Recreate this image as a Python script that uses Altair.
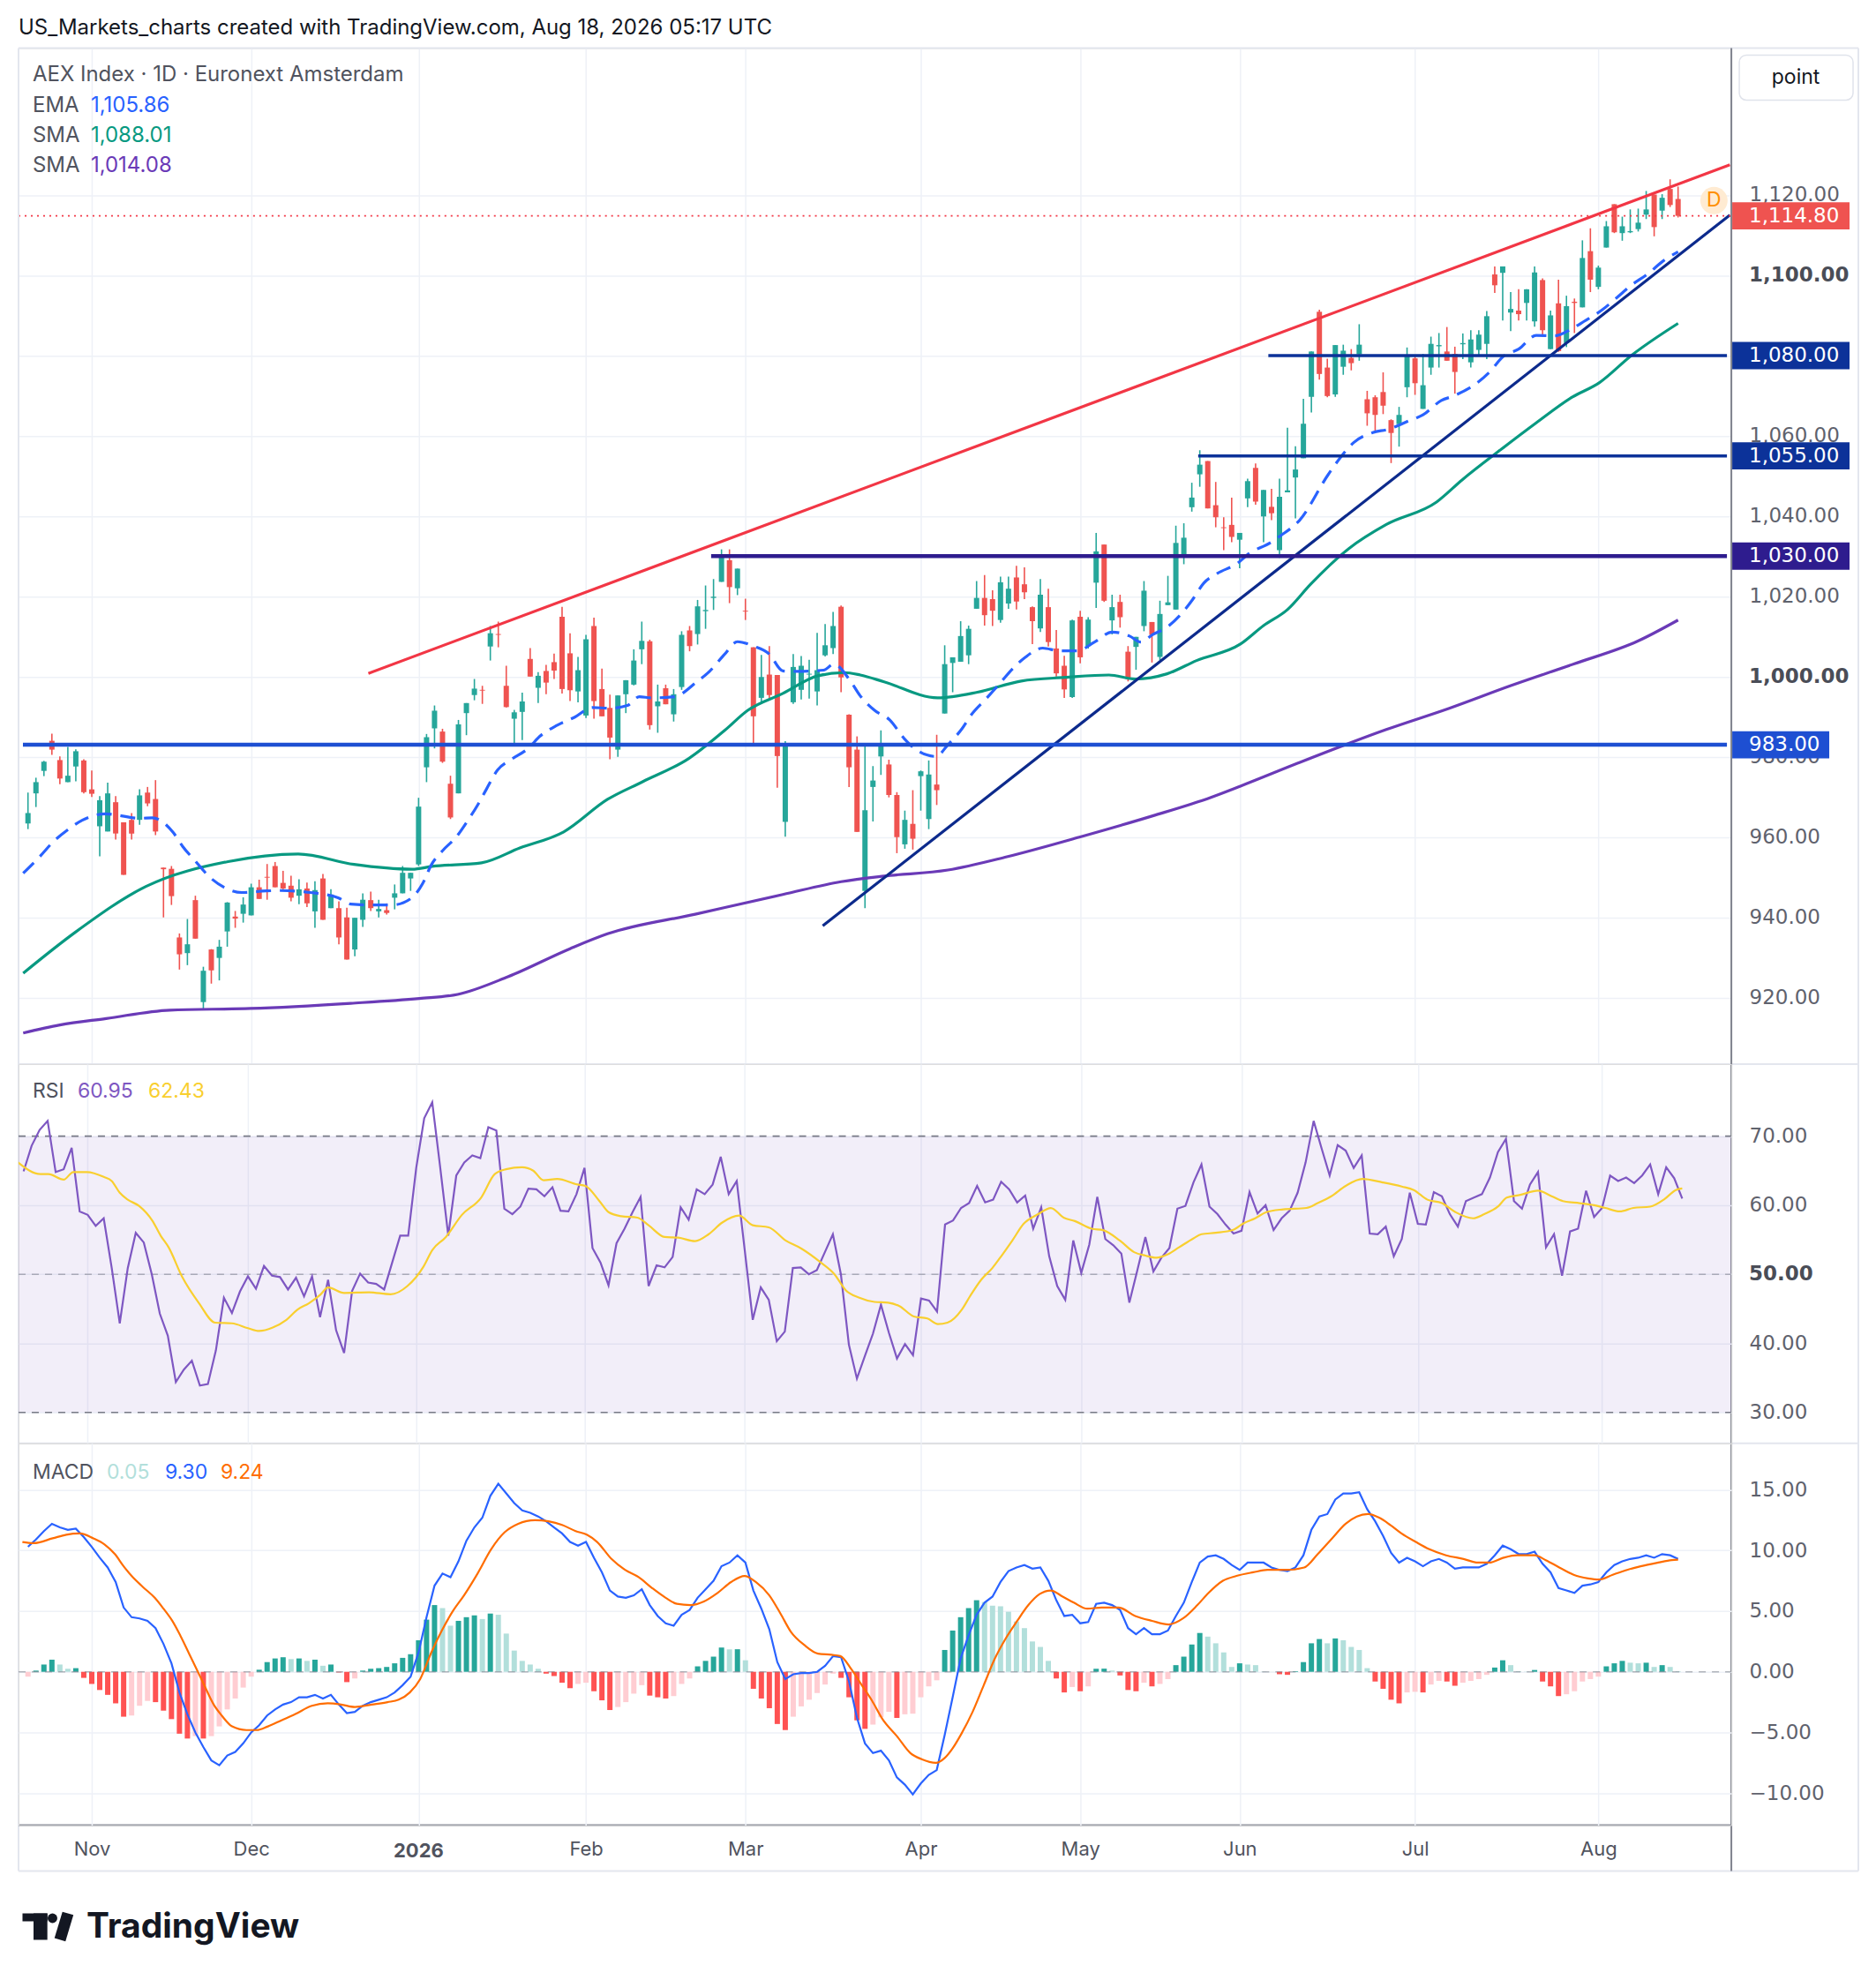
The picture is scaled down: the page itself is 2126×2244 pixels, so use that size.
import altair as alt
import pandas as pd

# ---------------- data (bar index 0 = 22 Oct 2025) ----------------
OPEN = [963.4, 970.9, 976.5, 984.0, 979.2, 973.7, 977.6, 979.1, 971.9, 962.7,
        961.4, 968.7, 963.7, 964.3, 964.3, 971.1, 969.5, 952.4, 952.1, 935.0,
        931.1, 944.3, 918.9, 932.0, 929.9, 936.5, 940.2, 940.9, 940.5, 947.5,
        950.1, 952.8, 948.6, 947.9, 945.4, 947.2, 941.5, 949.7, 942.3, 942.3,
        940.0, 932.0, 939.4, 944.3, 941.5, 941.8, 944.9, 946.0, 949.7, 953.2,
        977.4, 987.1, 986.3, 973.3, 970.9, 990.9, 995.4, 996.7, 1007.5, 1010.6,
        997.7, 989.5, 991.2, 1004.4, 997.2, 1001.4, 1003.6, 1014.9, 1005.8, 996.3,
        990.3, 1012.6, 996.9, 992.2, 981.8, 995.6, 998.0, 1006.8, 1008.8, 992.6,
        997.1, 990.6, 997.4, 1011.5, 1010.6, 1016.3, 1019.6, 1023.6, 1029.0, 1022.0,
        1016.4, 1007.3, 994.7, 1000.5, 1000.4, 963.8, 993.6, 996.7, 1000.5, 996.3,
        1005.3, 1007.1, 1017.4, 990.5, 981.8, 946.6, 972.5, 980.1, 978.1, 970.5,
        958.2, 963.3, 975.2, 964.5, 973.1, 990.8, 1003.4, 1003.7, 1005.3, 1016.9,
        1019.6, 1019.3, 1014.1, 1018.2, 1024.7, 1023.0, 1017.3, 1012.0, 1017.3, 1007.0,
        1002.7, 994.9, 1014.9, 1007.6, 1023.4, 1032.9, 1014.0, 1018.6, 1006.2, 1007.4,
        1012.6, 1013.6, 1004.9, 1017.8, 1016.7, 1029.7, 1042.2, 1050.4, 1053.7, 1042.7,
        1037.2, 1037.8, 1034.1, 1044.4, 1052.0, 1039.9, 1042.3, 1031.5, 1045.9, 1049.6,
        1054.4, 1069.7, 1090.9, 1077.0, 1070.3, 1077.2, 1079.4, 1080.3, 1069.1, 1069.6,
        1070.9, 1063.9, 1062.9, 1072.1, 1079.3, 1066.7, 1077.0, 1082.3, 1081.0, 1080.4,
        1082.8, 1078.3, 1081.4, 1082.9, 1100.2, 1100.6, 1090.7, 1091.2, 1093.1, 1088.5,
        1098.8, 1081.6, 1093.0, 1083.1, 1093.4, 1092.0, 1106.0, 1097.1, 1106.9, 1117.7,
        1110.5, 1110.7, 1111.5, 1115.1, 1120.1, 1116.1, 1121.5, 1119.0]
HIGH = [971.1, 974.8, 979.0, 985.8, 980.1, 982.5, 981.9, 979.4, 976.6, 970.2,
        973.6, 970.2, 963.7, 966.0, 971.9, 972.5, 974.2, 952.4, 952.8, 936.0,
        939.6, 945.4, 927.7, 932.1, 934.4, 943.8, 941.6, 945.0, 948.4, 949.4,
        953.3, 953.8, 951.6, 950.4, 949.5, 948.7, 949.0, 950.8, 947.0, 944.0,
        942.4, 939.9, 946.0, 946.4, 944.4, 943.5, 948.2, 952.8, 951.1, 969.8,
        985.7, 992.8, 987.0, 975.3, 989.2, 993.4, 999.4, 997.7, 1012.6, 1013.7,
        1002.7, 991.7, 996.0, 1007.1, 1001.1, 1002.9, 1005.7, 1017.4, 1010.8, 1004.9,
        1010.4, 1014.7, 1002.0, 995.5, 995.3, 999.1, 1006.8, 1013.7, 1009.2, 998.0,
        998.0, 996.9, 1011.3, 1012.6, 1019.1, 1022.7, 1024.3, 1031.7, 1031.7, 1026.9,
        1019.4, 1007.3, 1005.4, 1007.6, 1000.4, 983.9, 1005.6, 1005.1, 1004.2, 1010.9,
        1013.1, 1016.1, 1017.7, 990.6, 985.1, 982.6, 977.7, 986.6, 979.3, 971.2,
        966.6, 971.7, 976.6, 979.1, 985.5, 1007.8, 1004.8, 1013.8, 1012.7, 1023.8,
        1025.3, 1021.5, 1024.9, 1024.9, 1027.6, 1027.2, 1017.5, 1024.3, 1021.9, 1011.6,
        1005.2, 1014.2, 1016.4, 1014.8, 1035.8, 1032.9, 1020.4, 1020.4, 1007.6, 1009.9,
        1023.8, 1013.6, 1018.9, 1025.1, 1037.6, 1038.2, 1048.3, 1056.4, 1053.7, 1048.5,
        1039.7, 1044.6, 1035.8, 1049.3, 1053.1, 1046.5, 1046.8, 1049.3, 1062.0, 1057.4,
        1069.2, 1081.0, 1091.4, 1079.2, 1082.6, 1082.7, 1081.6, 1087.8, 1071.2, 1070.1,
        1075.8, 1064.1, 1067.2, 1082.0, 1080.1, 1080.4, 1084.7, 1085.6, 1087.1, 1082.2,
        1085.5, 1086.3, 1086.3, 1091.1, 1102.2, 1102.2, 1095.8, 1096.5, 1096.5, 1102.2,
        1099.2, 1091.2, 1098.9, 1094.9, 1094.2, 1108.7, 1111.7, 1102.4, 1113.5, 1117.7,
        1114.6, 1116.4, 1116.6, 1121.0, 1120.1, 1120.2, 1123.9, 1122.1]
LOW = [962.0, 967.5, 975.2, 980.5, 973.2, 973.7, 973.9, 970.9, 970.0, 955.2,
       961.4, 959.4, 950.6, 959.4, 963.1, 967.7, 960.5, 940.0, 943.1, 927.0,
       928.1, 934.7, 916.9, 923.5, 924.3, 932.7, 937.4, 938.7, 940.5, 944.6,
       944.4, 947.5, 947.0, 944.0, 943.3, 942.6, 937.4, 939.4, 942.3, 933.3,
       929.5, 930.3, 937.6, 941.6, 940.0, 940.7, 942.0, 946.0, 946.6, 952.8,
       973.7, 982.1, 978.5, 964.5, 970.9, 985.4, 994.1, 993.2, 1004.0, 1007.3,
       992.3, 982.6, 984.2, 1000.0, 993.4, 995.6, 999.4, 995.8, 993.9, 993.6,
       989.7, 989.5, 990.1, 979.4, 980.0, 990.9, 997.8, 1003.1, 986.8, 986.0,
       993.1, 988.8, 996.7, 1006.3, 1008.0, 1011.9, 1016.6, 1023.6, 1018.3, 1020.3,
       1014.1, 983.4, 993.6, 994.3, 972.3, 960.1, 993.2, 994.3, 994.5, 992.8,
       1005.0, 1005.6, 996.1, 972.5, 961.3, 942.3, 963.9, 975.5, 969.9, 956.0,
       957.1, 956.9, 966.6, 962.0, 968.0, 990.8, 996.1, 1003.7, 1003.1, 1016.9,
       1012.7, 1012.6, 1013.4, 1016.9, 1016.7, 1019.3, 1008.1, 1011.1, 1007.5, 1000.0,
       994.7, 994.7, 1003.3, 1007.0, 1017.1, 1018.6, 1010.5, 1012.2, 998.8, 1001.7,
       1011.3, 1003.5, 1004.1, 1017.8, 1016.7, 1028.0, 1041.1, 1047.3, 1041.9, 1037.2,
       1031.5, 1033.5, 1027.0, 1042.2, 1042.8, 1033.5, 1039.0, 1029.6, 1045.9, 1039.4,
       1054.4, 1065.8, 1074.0, 1069.6, 1069.7, 1075.2, 1076.3, 1078.7, 1062.5, 1060.8,
       1065.4, 1053.2, 1057.3, 1069.6, 1070.2, 1066.7, 1075.2, 1077.0, 1078.7, 1070.5,
       1079.1, 1077.0, 1079.8, 1079.1, 1095.6, 1088.7, 1086.1, 1088.7, 1088.7, 1087.2,
       1084.7, 1081.6, 1080.9, 1082.1, 1085.6, 1092.0, 1095.8, 1096.5, 1106.9, 1110.5,
       1108.6, 1110.5, 1110.9, 1114.0, 1109.7, 1114.0, 1117.0, 1114.4]
CLOSE = [966.0, 973.7, 978.8, 981.8, 974.6, 975.3, 981.4, 971.2, 970.8, 969.2,
         970.9, 960.9, 950.6, 960.9, 970.4, 968.4, 961.4, 952.0, 945.3, 930.8,
         933.3, 934.7, 926.7, 926.8, 932.7, 943.7, 939.7, 943.2, 947.5, 944.6,
         949.9, 947.5, 947.2, 944.9, 947.0, 943.5, 946.8, 939.4, 945.7, 935.0,
         929.5, 939.9, 944.4, 942.3, 942.1, 941.1, 946.0, 951.1, 951.1, 967.6,
         984.9, 991.5, 978.8, 964.9, 988.1, 993.4, 997.0, 996.5, 1010.8, 1010.4,
         992.4, 991.1, 993.8, 1000.0, 1000.2, 998.5, 1001.5, 996.9, 996.6, 1001.6,
         1009.3, 993.9, 990.1, 984.8, 995.3, 999.1, 1004.0, 1008.9, 987.9, 993.8,
         993.1, 995.6, 1010.4, 1007.6, 1017.5, 1016.6, 1019.9, 1030.1, 1022.3, 1026.9,
         1016.2, 990.1, 999.9, 995.4, 980.2, 983.1, 1002.4, 1002.7, 1000.7, 1001.6,
         1007.8, 1012.6, 999.8, 977.4, 961.3, 966.7, 974.1, 983.0, 970.5, 960.0,
         964.3, 959.6, 976.4, 975.6, 971.7, 1003.1, 1004.8, 1010.1, 1011.9, 1019.6,
         1015.3, 1016.4, 1023.5, 1021.9, 1018.7, 1021.0, 1013.8, 1020.4, 1008.6, 1000.8,
         996.8, 1014.0, 1004.8, 1014.2, 1031.2, 1018.9, 1017.3, 1014.8, 999.4, 1009.9,
         1021.4, 1010.4, 1015.6, 1018.5, 1033.3, 1034.6, 1044.6, 1052.8, 1041.9, 1039.7,
         1037.0, 1034.8, 1035.8, 1048.7, 1043.6, 1046.5, 1040.7, 1044.8, 1046.4, 1051.6,
         1063.0, 1081.0, 1075.4, 1069.9, 1082.6, 1081.2, 1078.1, 1082.7, 1065.6, 1065.2,
         1067.5, 1060.7, 1065.2, 1080.1, 1073.1, 1072.6, 1082.9, 1082.6, 1078.7, 1075.9,
         1083.1, 1084.0, 1085.2, 1089.8, 1097.5, 1102.2, 1091.6, 1090.3, 1096.5, 1100.7,
         1086.3, 1090.0, 1081.1, 1092.3, 1093.1, 1104.3, 1098.9, 1101.9, 1112.2, 1110.7,
         1112.2, 1111.0, 1113.1, 1116.4, 1112.0, 1119.3, 1117.5, 1114.8]

EMA_PTS = [(-0.6, 951.0), (1.6, 955.4), (3.1, 958.7), (5.1, 962.0), (6.8, 964.2), (9.7, 965.8),
           (14.1, 964.7), (15.6, 964.8), (18.2, 961.2), (19.4, 957.7), (21.1, 953.8), (22.6, 950.4),
           (24.6, 947.5), (26.8, 946.2), (29.9, 946.6), (31.7, 946.7), (35.4, 946.2), (38.9, 944.9),
           (40.5, 943.3), (42.7, 943.1), (45.7, 943.1), (48.1, 944.8), (49.5, 948.4), (50.6, 953.1),
           (52.0, 956.6), (53.8, 960.2), (55.1, 963.9), (56.5, 968.3), (57.5, 971.9), (58.9, 976.7),
           (60.6, 979.3), (62.8, 982.2), (64.2, 985.1), (66.4, 987.9), (68.6, 989.9), (70.8, 992.3),
           (73.0, 992.1), (75.2, 992.8), (76.7, 995.0), (78.2, 994.7), (81.1, 995.0), (83.9, 998.7),
           (85.5, 1001.3), (87.4, 1005.6), (89.0, 1008.7), (91.0, 1007.6), (93.0, 1005.6), (94.7, 1001.4),
           (96.5, 1001.3), (99.8, 1001.6), (101.1, 1003.1), (103.1, 999.1), (104.4, 995.2), (106.2, 991.6),
           (108.1, 989.2), (109.9, 984.6), (111.4, 981.8), (113.9, 980.1), (115.4, 983.0), (117.2, 987.1),
           (118.3, 990.4), (120.2, 994.5), (121.7, 997.8), (123.5, 1001.9), (125.1, 1004.8), (127.3, 1007.1),
           (129.4, 1006.4), (131.6, 1006.4), (133.8, 1008.6), (136.0, 1011.1), (138.2, 1010.1), (139.6, 1008.6),
           (141.1, 1010.5), (142.8, 1012.2), (144.8, 1015.9), (146.1, 1019.2), (147.5, 1023.3), (149.2, 1025.7),
           (151.7, 1028.2), (153.2, 1030.7), (155.8, 1033.3), (157.2, 1035.2), (159.5, 1038.9), (163.1, 1050.3),
           (164.8, 1055.0), (166.3, 1058.3), (168.7, 1060.8), (170.6, 1061.6), (173.2, 1063.7), (175.0, 1065.2),
           (177.3, 1068.8), (178.8, 1069.9), (181.8, 1073.2), (183.3, 1075.8), (185.1, 1079.8), (187.0, 1081.6),
           (189.2, 1085.0), (191.5, 1084.9), (193.7, 1086.7), (195.2, 1088.5), (197.5, 1091.4), (199.3, 1094.4),
           (201.2, 1097.6), (203.1, 1100.2), (205.3, 1103.8), (207.0, 1105.86)]
SMA50_PTS = [(-0.6, 926.1), (6.0, 936.4), (14.8, 947.7), (25.1, 953.9), (33.9, 955.8), (40.9, 953.2),
             (48.2, 952.0), (50.7, 952.7), (56.9, 953.6), (61.7, 957.3), (67.2, 961.3), (72.7, 969.4),
             (77.1, 973.8), (82.9, 979.6), (87.4, 986.6), (90.3, 991.6), (94.7, 995.8), (99.1, 1000.2),
             (102.4, 1001.0), (104.4, 1000.4), (107.4, 998.7), (114.1, 994.7), (119.1, 996.1), (124.6, 998.9),
             (130.1, 999.8), (135.6, 1000.4), (138.9, 999.4), (142.9, 1000.7), (146.6, 1004.0), (152.1, 1008.1),
             (155.0, 1012.7), (158.0, 1016.7), (160.9, 1023.0), (165.7, 1031.9), (170.4, 1037.9), (176.7, 1043.5),
             (179.9, 1049.0), (184.8, 1056.6), (189.2, 1063.2), (193.7, 1069.6), (197.1, 1073.2), (201.2, 1080.1),
             (207.0, 1088.01)]
SMA200_PTS = [(-0.6, 911.2), (4.0, 913.2), (9.8, 914.8), (17.8, 916.9), (27.9, 917.3), (40.5, 918.6),
              (49.1, 919.8), (53.9, 920.8), (60.2, 925.2), (68.0, 932.2), (72.7, 935.9), (83.7, 940.8),
              (94.7, 945.7), (102.0, 948.9), (107.4, 950.3), (115.4, 951.8), (122.8, 955.1), (131.9, 960.0),
              (141.1, 965.3), (148.4, 969.9), (152.1, 972.7), (159.4, 978.5), (170.4, 986.8), (178.3, 992.1),
              (186.1, 997.8), (194.0, 1003.2), (201.9, 1008.8), (207.0, 1014.08)]

RSI = [64.9, 68.6, 70.9, 72.2, 64.8, 65.2, 68.3, 59.1, 58.6, 57.0,
       58.1, 50.9, 42.9, 50.9, 56.0, 54.6, 50.0, 44.3, 41.1, 34.4,
       36.2, 37.5, 33.9, 34.1, 39.0, 46.6, 44.4, 47.5, 49.7, 47.9,
       51.2, 49.8, 49.6, 47.8, 49.5, 46.8, 49.7, 43.8, 49.2, 41.9,
       38.6, 47.6, 50.1, 48.8, 48.6, 47.8, 51.7, 55.6, 55.6, 65.4,
       72.6, 74.9, 65.4, 55.6, 64.3, 66.2, 67.2, 66.8, 71.3, 70.8,
       59.5, 58.7, 59.8, 62.4, 62.3, 61.3, 62.6, 59.2, 59.1, 61.6,
       65.4, 53.8, 51.7, 48.4, 54.5, 56.6, 59.0, 61.2, 48.3, 51.3,
       51.0, 52.5, 59.7, 57.9, 62.3, 61.6, 63.0, 67.0, 61.6, 63.5,
       53.5, 43.4, 48.1, 46.3, 40.3, 41.7, 50.9, 51.0, 50.0, 50.6,
       53.2, 55.8, 50.0, 39.8, 34.9, 38.2, 41.4, 45.6, 41.5, 37.8,
       39.9, 38.3, 46.5, 46.2, 44.6, 57.2, 57.8, 59.6, 60.3, 62.8,
       60.4, 60.8, 63.4, 62.3, 60.4, 61.4, 56.6, 59.7, 52.6, 48.3,
       46.3, 54.9, 50.2, 54.3, 61.2, 55.1, 54.2, 53.0, 45.9, 50.6,
       55.4, 50.4, 52.4, 53.8, 59.5, 59.9, 63.3, 65.9, 59.8, 58.7,
       57.2, 55.9, 56.3, 61.9, 58.8, 60.0, 56.4, 58.1, 59.2, 61.8,
       66.2, 72.2, 68.2, 64.3, 68.7, 67.9, 65.4, 67.2, 55.9, 55.8,
       56.9, 52.6, 55.1, 61.8, 57.3, 57.2, 61.9, 61.3, 58.7, 56.9,
       60.6, 61.1, 61.6, 64.0, 67.7, 69.6, 60.6, 59.5, 63.0, 64.8,
       53.9, 55.8, 49.8, 56.2, 56.6, 62.1, 58.3, 59.6, 64.3, 63.5,
       64.0, 63.2, 64.3, 65.9, 61.6, 65.5, 63.9, 60.95]
RSI_MA_PTS = [(-0.7, 66.2), (2.1, 64.5), (3.1, 64.5), (5.0, 63.7), (6.2, 64.8), (7.9, 64.8), (10.0, 64.1),
              (11.0, 63.5), (12.0, 61.8), (13.0, 60.8), (14.4, 59.9), (16.1, 57.7), (17.1, 55.6), (18.1, 53.9),
              (19.8, 49.6), (21.9, 45.8), (23.9, 43.0), (26.0, 42.9), (28.0, 42.2), (29.4, 41.8), (31.1, 42.3),
              (32.8, 43.4), (34.2, 44.9), (35.6, 45.8), (37.0, 47.0), (38.0, 48.1), (40.0, 47.3), (43.1, 47.4),
              (45.8, 47.1), (47.9, 48.3), (49.9, 51.1), (51.0, 53.5), (52.7, 55.4), (54.7, 58.6), (57.1, 61.1),
              (58.8, 64.5), (60.2, 65.2), (62.2, 65.5), (63.6, 65.0), (64.9, 63.6), (66.6, 63.8), (69.1, 63.0),
              (70.1, 62.8), (71.8, 60.7), (73.0, 59.0), (74.6, 58.4), (76.6, 58.2), (78.0, 57.1), (80.0, 55.4),
              (81.7, 55.3), (83.8, 54.8), (85.5, 55.8), (87.2, 57.5), (89.3, 58.5), (91.0, 57.1), (93.0, 56.8),
              (95.1, 54.9), (97.1, 53.7), (99.5, 51.7), (101.2, 50.0), (102.6, 47.7), (104.3, 46.6), (106.2, 46.0),
              (107.9, 45.9), (109.3, 45.4), (111.1, 43.9), (112.8, 43.6), (114.1, 42.8), (115.3, 43.0),
              (117.1, 44.9), (118.1, 46.8), (119.5, 49.2), (120.9, 50.9), (122.0, 52.6), (123.4, 54.9),
              (124.8, 57.3), (126.6, 58.7), (128.2, 59.6), (129.8, 58.2), (131.2, 57.7), (133.3, 56.6),
              (134.7, 56.4), (136.8, 54.9), (138.6, 53.2), (140.0, 52.7), (141.4, 52.4), (142.8, 52.9),
              (144.2, 53.9), (146.0, 55.2), (147.0, 55.8), (148.8, 56.0), (150.9, 56.4), (152.3, 57.4),
              (153.7, 58.1), (155.1, 59.0), (157.2, 59.4), (160.1, 59.6), (161.5, 60.3), (163.2, 61.3),
              (165.0, 62.8), (167.1, 63.8), (169.6, 63.3), (172.0, 62.7), (173.5, 62.2), (175.2, 60.8),
              (177.0, 60.3), (178.7, 59.0), (180.9, 58.1), (182.3, 58.7), (184.0, 59.8), (185.1, 61.1),
              (186.8, 61.5), (189.0, 62.1), (190.7, 61.3), (192.1, 60.6), (194.2, 60.3), (196.0, 60.0),
              (197.4, 59.6), (199.2, 59.1), (200.9, 59.6), (203.0, 59.8), (204.8, 60.9), (206.2, 62.2),
              (207.0, 62.43)]

MACD = [10.3, 10.9, 11.6, 12.2, 11.9, 11.7, 11.8, 11.1, 10.3, 9.4,
        8.6, 7.4, 5.3, 4.5, 4.4, 4.2, 3.6, 2.3, 0.7, -1.7,
        -3.5, -5.0, -6.2, -7.3, -7.7, -6.9, -6.6, -5.9, -5.0, -4.4,
        -3.6, -3.1, -2.7, -2.5, -2.1, -2.1, -1.9, -2.2, -1.9, -2.7,
        -3.4, -3.3, -2.8, -2.5, -2.3, -2.1, -1.7, -1.1, -0.4, 1.6,
        4.5, 7.1, 8.1, 7.8, 9.1, 10.8, 11.9, 12.7, 14.5, 15.5,
        14.7, 13.9, 13.3, 13.1, 12.8, 12.4, 11.9, 11.4, 10.7, 10.4,
        10.7, 9.4, 8.2, 6.7, 6.2, 6.1, 6.3, 6.8, 5.5, 4.6,
        4.0, 3.8, 4.7, 5.1, 6.1, 6.8, 7.5, 8.7, 9.0, 9.6,
        9.0, 6.7, 5.2, 3.5, 0.8, -0.6, -0.2, -0.1, -0.1, 0.0,
        0.5, 1.3, 1.2, -0.8, -3.8, -5.9, -6.7, -6.5, -7.3, -8.7,
        -9.3, -10.1, -9.2, -8.5, -8.1, -5.2, -2.1, 1.1, 3.0, 4.7,
        5.7, 6.2, 7.4, 8.3, 8.6, 8.8, 8.5, 8.6, 7.5, 5.9,
        4.6, 4.7, 4.0, 4.1, 5.6, 5.7, 5.5, 5.1, 3.6, 3.1,
        3.6, 3.1, 3.1, 3.4, 4.6, 5.7, 7.4, 9.0, 9.5, 9.6,
        9.3, 8.8, 8.4, 9.0, 9.0, 9.0, 8.6, 8.4, 8.3, 8.6,
        9.6, 11.7, 12.8, 13.0, 14.2, 14.7, 14.7, 14.8, 13.4, 12.4,
        11.2, 9.8, 9.0, 9.4, 9.1, 8.7, 9.1, 9.3, 9.0, 8.5,
        8.6, 8.6, 8.6, 8.9, 9.6, 10.4, 10.1, 9.7, 9.7, 9.9,
        8.9, 8.2, 6.9, 6.7, 6.5, 7.1, 7.2, 7.4, 8.2, 8.8,
        9.1, 9.3, 9.4, 9.6, 9.4, 9.7, 9.6, 9.3]
SIGNAL_PTS = [(-0.7, 10.7), (0.7, 10.6), (3.1, 11.0), (4.8, 11.3), (6.5, 11.4), (8.2, 11.0), (9.6, 10.5),
              (10.9, 9.7), (12.0, 8.7), (13.0, 7.9), (14.4, 7.0), (15.9, 6.1), (17.0, 5.2), (18.1, 4.2),
              (19.1, 3.0), (20.5, 1.1), (21.9, -0.8), (23.3, -2.7), (24.3, -3.6), (25.6, -4.5), (27.4, -4.8),
              (28.7, -4.8), (30.1, -4.5), (31.8, -4.0), (33.5, -3.5), (35.6, -2.8), (37.6, -2.6), (39.3, -2.7),
              (41.0, -2.9), (43.1, -2.7), (45.1, -2.5), (46.5, -2.3), (47.9, -1.7), (49.2, -0.6), (50.6, 1.6),
              (52.0, 3.5), (53.3, 5.0), (54.7, 6.3), (56.4, 8.1), (58.1, 10.1), (59.8, 11.5), (61.5, 12.2),
              (63.6, 12.5), (65.3, 12.4), (67.0, 12.1), (68.7, 11.6), (70.1, 11.3), (71.4, 10.7), (73.2, 9.3),
              (74.9, 8.4), (76.6, 7.8), (78.3, 6.9), (80.0, 6.1), (81.4, 5.6), (83.1, 5.5), (84.8, 5.8),
              (86.5, 6.5), (88.2, 7.4), (89.9, 7.9), (91.3, 7.4), (93.0, 6.3), (94.4, 4.8), (95.7, 3.3),
              (97.4, 2.2), (99.1, 1.5), (100.8, 1.4), (101.9, 1.3), (103.3, 0.2), (104.6, -1.1), (105.9, -2.4),
              (107.2, -3.9), (109.0, -5.3), (110.7, -6.7), (112.1, -7.2), (113.9, -7.5), (115.0, -7.1),
              (116.0, -6.3), (117.1, -5.1), (118.5, -3.3), (119.9, -1.1), (121.3, 1.1), (122.7, 2.8),
              (124.1, 4.2), (125.5, 5.5), (126.9, 6.4), (128.3, 6.7), (129.8, 6.2), (131.2, 5.7), (132.9, 5.2),
              (134.7, 5.3), (136.8, 5.3), (138.9, 4.6), (141.0, 4.2), (143.1, 3.9), (144.9, 4.4), (146.7, 5.5),
              (148.1, 6.5), (149.9, 7.5), (151.6, 7.9), (153.7, 8.2), (155.5, 8.4), (157.9, 8.4), (160.1, 8.6),
              (161.8, 9.7), (163.6, 11.0), (165.3, 12.2), (166.7, 12.8), (168.1, 13.0), (169.5, 12.7),
              (170.9, 12.1), (172.3, 11.4), (174.1, 10.7), (175.8, 10.1), (177.9, 9.6), (180.1, 9.3),
              (181.9, 9.0), (183.3, 9.0), (185.1, 9.4), (186.8, 9.6), (189.0, 9.6), (190.4, 9.2), (192.1, 8.6),
              (193.9, 8.0), (195.7, 7.7), (197.1, 7.6), (198.8, 8.0), (200.6, 8.4), (202.3, 8.7), (204.5, 9.0),
              (206.2, 9.2), (207.0, 9.24)]
HIST = [-0.4, 0.1, 0.6, 1.0, 0.6, 0.25, 0.3, -0.5, -1.0, -1.5,
        -1.9, -2.6, -3.7, -3.6, -2.8, -2.4, -2.5, -3.2, -3.9, -5.1,
        -5.5, -5.3, -5.5, -5.3, -4.5, -3.1, -2.2, -1.3, -0.4, 0.17,
        0.8, 1.1, 1.2, 1.05, 1.1, 0.9, 1.0, 0.5, 0.6, -0.05,
        -0.85, -0.55, 0.1, 0.25, 0.3, 0.4, 0.7, 1.15, 1.45, 2.6,
        4.3, 5.5, 5.25, 3.8, 4.2, 4.5, 4.65, 4.35, 4.8, 4.7,
        3.15, 1.75, 0.9, 0.6, 0.25, -0.15, -0.35, -0.9, -1.35, -1.0,
        -0.9, -1.6, -2.35, -3.15, -2.9, -2.5, -1.8, -1.1, -1.96, -2.1,
        -2.2, -2.0, -1.0, -0.55, 0.45, 0.9, 1.25, 2.0, 1.85, 1.86,
        0.95, -1.4, -2.2, -3.0, -4.3, -4.8, -3.7, -2.85, -2.3, -1.75,
        -1.05, -0.15, -0.5, -2.1, -4.0, -4.7, -4.35, -3.75, -3.3, -3.8,
        -3.5, -3.45, -2.1, -1.2, -0.7, 1.8, 3.4, 4.5, 5.25, 5.9,
        5.75, 5.45, 5.4, 4.95, 4.15, 3.6, 2.5, 2.05, 0.9, -0.55,
        -1.7, -1.25, -1.6, -1.2, 0.25, 0.26, 0.1, -0.3, -1.5, -1.6,
        -0.9, -1.2, -1.0, -0.6, 0.55, 1.25, 2.25, 3.2, 2.9, 2.35,
        1.6, 0.4, 0.7, 0.6, 0.55, 0.02, 0.01, -0.2, -0.25, 0.05,
        0.8, 2.35, 2.7, 2.35, 2.75, 2.6, 2.05, 1.8, 0.3, -0.8,
        -1.4, -2.3, -2.6, -1.7, -1.65, -1.7, -1.05, -0.75, -0.8, -1.15,
        -0.9, -0.75, -0.6, -0.25, 0.35, 0.95, 0.55, 0.05, 0.02, 0.15,
        -0.8, -1.2, -2.0, -1.85, -1.6, -0.8, -0.6, -0.4, 0.45, 0.7,
        0.9, 0.75, 0.7, 0.75, 0.4, 0.55, 0.4, 0.05]

MONTH_IDX = [8, 28, 49, 70, 90, 112, 132, 152, 174, 197]
MONTH_LABELS = ["Nov", "Dec", "2026", "Feb", "Mar", "Apr", "May", "Jun", "Jul", "Aug"]
YEAR_IDX = 49
PRICE_TICKS = [920, 940, 960, 980, 1000, 1020, 1040, 1060, 1080, 1100, 1120]
PRICE_BOLD = [1000, 1100]
RSI_TICKS = [30, 40, 50, 60, 70]
RSI_BOLD = [50]
MACD_TICKS = [-10, -5, 0, 5, 10, 15]

LEVEL_PRICE = [983.0, 1030.0, 1055.0, 1080.0]
LEVEL_FROM = [-0.633, 85.7, 146.8, 155.6]
RED_TREND = [(42.7, 1000.8), (213.5, 1127.5)]
NAVY_TREND = [(99.7, 937.9), (213.5, 1115.0)]
LAST_PRICE = 1114.80
EMA_LAST, SMA50_LAST, SMA200_LAST = 1105.86, 1088.01, 1014.08
RSI_LAST, RSI_MA_LAST = 60.95, 62.43
HIST_LAST, MACD_LAST, SIGNAL_LAST = 0.05, 9.30, 9.24
D_MARK = (211.5, 1118.6)

# ---------------- layout / style ----------------
W, H1, H2, H3 = 1942, 1152, 430, 433
FULL_W, FULL_H = 2086, 2067
XDOM = [-0.633, 213.13]
PDOM = [903.45, 1156.6]
RDOM = [25.53, 80.43]
MDOM = [-12.64, 18.83]

UP, DOWN = "#26A69A", "#EF5350"
GRID = "#EEF1F7"
AXIS_LINE = "#7F828D"
FRAME = "#E3E6EE"
TXT = "#131722"
LBL = "#5F626D"
LBL_BOLD = "#4A4D57"
AXFONT = "DejaVu Sans"
AXSIZE = 23
LEVEL_COLOR = ["#1E4FD2", "#2E1C8E", "#0C3299", "#0C3299"]
LEVEL_WIDTH = [4.5, 4.5, 3.5, 3.5]
BOX_COLOR = ["#EF5350", "#0C3299", "#0C3299", "#2E1C8E"]

xs = alt.Scale(domain=XDOM, nice=False, zero=False)
ps = alt.Scale(domain=PDOM, nice=False, zero=False)
rs = alt.Scale(domain=RDOM, nice=False, zero=False)
ms = alt.Scale(domain=MDOM, nice=False, zero=False)

month_expr = " : ".join(
    f"datum.value == {v} ? '{'' if v == YEAR_IDX else t}'" for v, t in zip(MONTH_IDX, MONTH_LABELS)) + " : ''"
XGRID = alt.Axis(values=MONTH_IDX, grid=True, gridColor=GRID, gridWidth=1.5, labels=False,
                 ticks=False, domain=False, title=None)
XBOTTOM = alt.Axis(values=MONTH_IDX, grid=True, gridColor=GRID, gridWidth=1.5, labelExpr=month_expr,
                   ticks=False, domain=False, title=None, labelFont="Inter", labelFontSize=22,
                   labelColor="#50535E", labelPadding=17, labelFlush=False, labelOverlap=False)


def yaxis(values, expr):
    return alt.Axis(orient="right", values=values, labelExpr=expr, labelAlign="left", labelBaseline="middle",
                    labelPadding=20, ticks=False, domain=False, grid=True, gridColor=GRID, gridWidth=1.5,
                    title=None, labelFont=AXFONT, labelFontSize=AXSIZE, labelColor=LBL, labelFlush=False,
                    labelOverlap=False)


def blank_expr(bold, fmt):
    cond = " || ".join(f"datum.value == {b}" for b in bold) if bold else "false"
    return f"({cond}) ? '' : replace(format(datum.value, '{fmt}'), '-', '\u2212')"


YP = yaxis(PRICE_TICKS, blank_expr(PRICE_BOLD, ",.2f"))
YR = yaxis(RSI_TICKS, blank_expr(RSI_BOLD, ".2f"))
YM = yaxis(MACD_TICKS, blank_expr([], ".2f"))


def one():
    return pd.DataFrame({"k": [0]})


def txt(s, x, y, color=TXT, size=22, weight="normal", align="left", font="Inter"):
    return alt.Chart(pd.DataFrame({"t": [s]})).mark_text(
        align=align, baseline="middle", font=font, fontSize=size, fontWeight=weight, color=color
    ).encode(x=alt.value(x), y=alt.value(y), text="t:N")


def pts_df(pts):
    return pd.DataFrame({"i": [p[0] for p in pts], "v": [p[1] for p in pts]})


def frule(x, x2, y, y2, color, width):
    return alt.Chart(one()).mark_rule(color=color, strokeWidth=width).encode(
        x=alt.value(x), x2=alt.value(x2), y=alt.value(y), y2=alt.value(y2))


def bold_labels(vals, scale, yax, fmt):
    return alt.Chart(pd.DataFrame({"p": vals})).mark_text(
        align="left", baseline="middle", font=AXFONT, fontSize=AXSIZE, fontWeight="bold", color=LBL_BOLD
    ).encode(x=alt.value(W + 20), y=alt.Y("p:Q", scale=scale, axis=yax), text=alt.Text("p:Q", format=fmt))


# ---------------- price pane ----------------
candles = pd.DataFrame({"i": list(range(len(OPEN))), "o": OPEN, "h": HIGH, "l": LOW, "c": CLOSE})
ccol = alt.condition("datum.c >= datum.o", alt.value(UP), alt.value(DOWN))

wicks = alt.Chart(candles).mark_rule(strokeWidth=1.6).encode(
    x=alt.X("i:Q", scale=xs, axis=XGRID), y=alt.Y("l:Q", scale=ps, axis=YP), y2="h:Q", color=ccol)
bodies = alt.Chart(candles).mark_bar(size=6).encode(
    x=alt.X("i:Q", scale=xs, axis=XGRID), y=alt.Y("o:Q", scale=ps, axis=YP), y2="c:Q", color=ccol)


def pline(pts, color, width, scale, yax, xax, dash=None, interp="monotone"):
    kw = dict(color=color, strokeWidth=width, clip=True, interpolate=interp)
    if dash:
        kw["strokeDash"] = dash
    return alt.Chart(pts_df(pts)).mark_line(**kw).encode(
        x=alt.X("i:Q", scale=xs, axis=xax), y=alt.Y("v:Q", scale=scale, axis=yax))


sma200 = pline(SMA200_PTS, "#6A3AB7", 3.2, ps, YP, XGRID)
sma50 = pline(SMA50_PTS, "#089981", 3.2, ps, YP, XGRID)
ema = pline(EMA_PTS, "#2962FF", 3.2, ps, YP, XGRID, dash=[17, 10])
red_trend = pline(RED_TREND, "#F23645", 3.2, ps, YP, XGRID, interp="linear")
navy_trend = pline(NAVY_TREND, "#0C2A8C", 3.2, ps, YP, XGRID, interp="linear")

levels_df = pd.DataFrame({"p": LEVEL_PRICE, "a": LEVEL_FROM, "b": [XDOM[1]] * len(LEVEL_PRICE),
                          "col": LEVEL_COLOR, "w": LEVEL_WIDTH})
levels = alt.Chart(levels_df).mark_rule(clip=True).encode(
    x=alt.X("a:Q", scale=xs, axis=XGRID), x2="b:Q", y=alt.Y("p:Q", scale=ps, axis=YP),
    color=alt.Color("col:N", scale=None), strokeWidth=alt.StrokeWidth("w:Q", scale=None))

last_line = alt.Chart(pd.DataFrame({"p": [LAST_PRICE]})).mark_rule(
    color="#F23645", strokeWidth=1.6, strokeDash=[2, 5]).encode(
    x=alt.value(0), x2=alt.value(W), y=alt.Y("p:Q", scale=ps, axis=YP))

price_bold = bold_labels(PRICE_BOLD, ps, YP, ",.2f")

box_df = pd.DataFrame({"p": [LAST_PRICE, 1080.0, 1055.0, 1030.0], "col": BOX_COLOR})
boxes = alt.Chart(box_df).mark_rect(yOffset=-15.5, y2Offset=15.5).encode(
    x=alt.value(W + 1), x2=alt.value(W + 134), y=alt.Y("p:Q", scale=ps, axis=YP), y2=alt.Y2("p"),
    color=alt.Color("col:N", scale=None))
box983 = alt.Chart(pd.DataFrame({"p": [983.0]})).mark_rect(yOffset=-15.5, y2Offset=15.5, color="#1E4FD2").encode(
    x=alt.value(W + 1), x2=alt.value(W + 111), y=alt.Y("p:Q", scale=ps, axis=YP), y2=alt.Y2("p"))
box_text = alt.Chart(pd.DataFrame({"p": [LAST_PRICE, 1080.0, 1055.0, 1030.0, 983.0]})).mark_text(
    align="left", baseline="middle", font=AXFONT, fontSize=AXSIZE, color="white").encode(
    x=alt.value(W + 20), y=alt.Y("p:Q", scale=ps, axis=YP), text=alt.Text("p:Q", format=",.2f"))

d_df = pd.DataFrame({"i": [D_MARK[0]], "v": [D_MARK[1]], "t": ["D"]})
d_circle = alt.Chart(d_df).mark_circle(size=960, color="#FFEBD2", opacity=1).encode(
    x=alt.X("i:Q", scale=xs, axis=XGRID), y=alt.Y("v:Q", scale=ps, axis=YP))
d_text = alt.Chart(d_df).mark_text(font="Inter", fontSize=23, color="#FF8F00", baseline="middle").encode(
    x=alt.X("i:Q", scale=xs, axis=XGRID), y=alt.Y("v:Q", scale=ps, axis=YP), text="t:N")

point_box = alt.Chart(one()).mark_rect(fill="white", stroke="#E0E3EB", strokeWidth=1.5, cornerRadius=8).encode(
    x=alt.value(W + 9), x2=alt.value(W + 138), y=alt.value(8), y2=alt.value(59))
point_txt = txt("point", W + 73, 34, size=23, align="center")

header = txt("US_Markets_charts created with TradingView.com, Aug 18, 2026 05:17 UTC", 0, -23, size=24)
GREY = "#50535E"
leg = [
    txt("AEX Index · 1D · Euronext Amsterdam", 16, 31, color=GREY, size=24),
    txt("EMA", 16, 66, color=GREY, size=24), txt(f"{EMA_LAST:,.2f}", 82, 66, color="#2962FF", size=24),
    txt("SMA", 16, 100, color=GREY, size=24), txt(f"{SMA50_LAST:,.2f}", 82, 100, color="#089981", size=24),
    txt("SMA", 16, 134, color=GREY, size=24), txt(f"{SMA200_LAST:,.2f}", 82, 134, color="#6A3AB7", size=24),
]

frame = [
    frule(0, FULL_W, 0, 0, FRAME, 2),
    frule(0, FULL_W, FULL_H, FULL_H, FRAME, 2),
    frule(0, 0, 0, FULL_H, FRAME, 2),
    frule(FULL_W, FULL_W, 0, FULL_H, FRAME, 2),
    frule(0, FULL_W, H1, H1, FRAME, 2),
    frule(0, FULL_W, H1 + H2, H1 + H2, FRAME, 2),
    frule(0, W, H1 + H2 + H3, H1 + H2 + H3, AXIS_LINE, 2),
    frule(W, W, 0, FULL_H, AXIS_LINE, 2),
]

price = alt.layer(
    wicks, bodies, sma200, sma50, ema, red_trend, navy_trend, levels, last_line, price_bold,
    boxes, box983, box_text, d_circle, d_text, point_box, point_txt, header, *leg, *frame
).properties(width=W, height=H1)

# ---------------- RSI pane ----------------
rsi_df = pd.DataFrame({"i": list(range(len(RSI))), "v": RSI})
band = alt.Chart(pd.DataFrame({"a": [70], "b": [30]})).mark_rect(color="#7E57C2", opacity=0.1).encode(
    x=alt.value(0), x2=alt.value(W), y=alt.Y("a:Q", scale=rs, axis=YR), y2="b:Q")


def hrule(val, scale, yax, opacity):
    return alt.Chart(pd.DataFrame({"p": [val]})).mark_rule(
        color="#787B86", strokeWidth=1.6, strokeDash=[8, 7], opacity=opacity).encode(
        x=alt.value(0), x2=alt.value(W), y=alt.Y("p:Q", scale=scale, axis=yax))


rsi_line = alt.Chart(rsi_df).mark_line(color="#7E57C2", strokeWidth=2.2, clip=True).encode(
    x=alt.X("i:Q", scale=xs, axis=XGRID), y=alt.Y("v:Q", scale=rs, axis=YR))
rsi_ma = pline(RSI_MA_PTS, "#F9CF2F", 2.2, rs, YR, XGRID)
rsi_bold = bold_labels(RSI_BOLD, rs, YR, ".2f")
rsi_leg = [txt("RSI", 16, 31, color=GREY, size=23), txt(f"{RSI_LAST:.2f}", 67, 31, color="#7E57C2", size=23),
           txt(f"{RSI_MA_LAST:.2f}", 147, 31, color="#F9CF2F", size=23)]

rsi = alt.layer(band, hrule(70, rs, YR, 1), hrule(50, rs, YR, 0.55), hrule(30, rs, YR, 1),
                rsi_line, rsi_ma, rsi_bold, *rsi_leg).properties(width=W, height=H2)

# ---------------- MACD pane ----------------
hcols = []
for k, h in enumerate(HIST):
    prev = HIST[k - 1] if k > 0 else None
    if h >= 0:
        hcols.append("#26A69A" if (prev is None or h > prev) else "#B2DFDB")
    else:
        hcols.append("#FF5252" if (prev is not None and h < prev) else "#FFCDD2")
hist_df = pd.DataFrame({"i": list(range(len(HIST))), "v": HIST, "z": [0.0] * len(HIST), "col": hcols})
hist = alt.Chart(hist_df).mark_bar(size=6).encode(
    x=alt.X("i:Q", scale=xs, axis=XBOTTOM), y=alt.Y("v:Q", scale=ms, axis=YM), y2="z:Q",
    color=alt.Color("col:N", scale=None))
macd_df = pd.DataFrame({"i": list(range(len(MACD))), "v": MACD})
macd_line = alt.Chart(macd_df).mark_line(color="#2962FF", strokeWidth=2.2, clip=True).encode(
    x=alt.X("i:Q", scale=xs, axis=XBOTTOM), y=alt.Y("v:Q", scale=ms, axis=YM))
sig_line = pline(SIGNAL_PTS, "#FF6D00", 2.2, ms, YM, XBOTTOM)
year_lbl = alt.Chart(pd.DataFrame({"i": [YEAR_IDX], "t": [MONTH_LABELS[MONTH_IDX.index(YEAR_IDX)]]})).mark_text(
    font="Inter", fontSize=22, fontWeight="bold", color=GREY, baseline="middle").encode(
    x=alt.X("i:Q", scale=xs, axis=XBOTTOM), y=alt.value(H3 + 29), text="t:N")
macd_leg = [txt("MACD", 16, 33, color=GREY, size=23), txt(f"{HIST_LAST:.2f}", 100, 33, color="#B2DFDB", size=23),
            txt(f"{MACD_LAST:.2f}", 166, 33, color="#2962FF", size=23),
            txt(f"{SIGNAL_LAST:.2f}", 229, 33, color="#FF6D00", size=23)]

logo = [
    alt.Chart(one()).mark_rect(color=TXT).encode(x=alt.value(4.5), x2=alt.value(32.7), y=alt.value(533), y2=alt.value(542)),
    alt.Chart(one()).mark_rect(color=TXT).encode(x=alt.value(17), x2=alt.value(32.7), y=alt.value(533), y2=alt.value(563)),
    alt.Chart(one()).mark_circle(color=TXT, size=120, opacity=1).encode(x=alt.value(38.5), y=alt.value(538.5)),
    alt.Chart(one()).mark_rule(color=TXT, strokeWidth=13).encode(
        x=alt.value(47), x2=alt.value(56), y=alt.value(563), y2=alt.value(533)),
    txt("TradingView", 77, 549, size=39, weight="bold"),
]

macd = alt.layer(hist, hrule(0, ms, YM, 0.55), macd_line, sig_line, year_lbl, *macd_leg, *logo
                 ).properties(width=W, height=H3)

chart = alt.vconcat(price, rsi, macd, spacing=0, bounds="flush").resolve_scale(
    x="independent", y="independent"
).properties(
    padding={"left": 11, "top": 10, "right": 10, "bottom": 10}
).configure_view(stroke=None).configure(font="Inter", background="white")

chart.save("out.html", embed_options={"renderer": "svg", "actions": False})
